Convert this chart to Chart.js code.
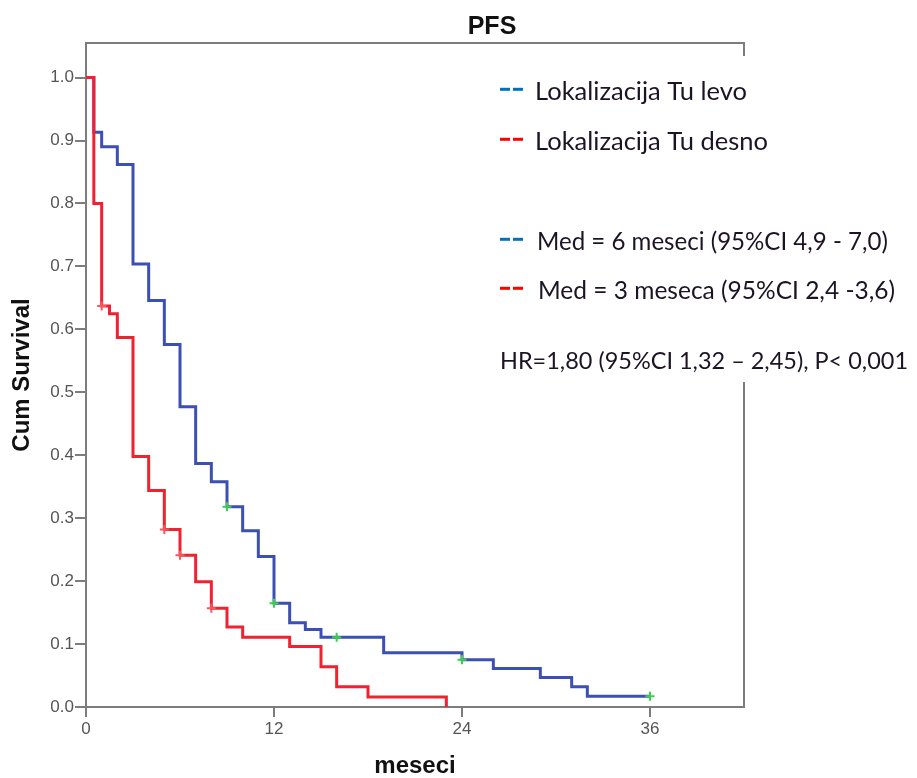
<!DOCTYPE html>
<html>
<head>
<meta charset="utf-8">
<script src="https://cdn.jsdelivr.net/npm/chart.js@4/dist/chart.umd.min.js"></script>
<style>
html,body{margin:0;padding:0;background:#fff;}
#wrap{width:917px;height:778px;position:relative;}
canvas{display:block;}
</style>
</head>
<body>
<div id="wrap"><canvas id="c" width="917" height="778"></canvas></div>
<script>
// ---------- DATA ----------
const chartTitle = 'PFS';
const xAxisTitle = 'meseci';
const yAxisTitle = 'Cum Survival';
const xTickValues = [0, 12, 24, 36];
const yTickValues = [0.0, 0.1, 0.2, 0.3, 0.4, 0.5, 0.6, 0.7, 0.8, 0.9, 1.0];
const seriesNames = ['Lokalizacija Tu levo', 'Lokalizacija Tu desno'];

// Group "levo" (blue)
const levoTimes = [0, 0.5, 1, 2, 3, 4, 5, 6, 7, 8, 9, 10, 11, 12, 13, 14, 15, 19, 24, 26, 29, 31, 32, 36];
const levoSurv  = [1.0, 0.913, 0.890, 0.862, 0.704, 0.646, 0.576, 0.477, 0.387, 0.358, 0.318, 0.280, 0.239, 0.165, 0.134, 0.123, 0.111, 0.086, 0.075, 0.061, 0.047, 0.032, 0.017, 0.017];
const levoCensorTimes = [9, 12, 16, 24, 36];
const levoCensorSurv  = [0.318, 0.165, 0.111, 0.075, 0.017];

// Group "desno" (red)
const desnoTimes = [0, 0.5, 1, 1.5, 2, 3, 4, 5, 6, 7, 8, 9, 10, 13, 15, 16, 18, 23];
const desnoSurv  = [1.0, 0.8, 0.637, 0.625, 0.587, 0.398, 0.344, 0.282, 0.241, 0.199, 0.157, 0.127, 0.111, 0.096, 0.064, 0.032, 0.016, 0.0];
const desnoCensorTimes = [1, 5, 6, 8];
const desnoCensorSurv  = [0.637, 0.282, 0.241, 0.157];

const annotationLines = [
  'Med = 6 meseci (95%CI 4,9 - 7,0)',
  'Med = 3 meseca (95%CI 2,4 -3,6)',
  'HR=1,80 (95%CI 1,32 \u2013 2,45), P< 0,001'
];

// ---------- STYLE ----------
const BLUE = '#3c50b4';
const RED = '#ef2231';
const GREEN = '#3ccf4e';
const RED_CENSOR = '#f25a62';
const AXIS = '#7d7d7d';
const TICK_TEXT = '#555555';
const SANS = 'Arial, "Liberation Sans", sans-serif';
const LEG_FONT = 'Lato, "Open Sans", sans-serif';

const toPts = (xs, ys) => xs.map((x, i) => ({x: x, y: ys[i]}));

const legendItems = [
  {text: seriesNames[0], dash: '#0070c0', x: 535, y: 92, w: 212},
  {text: seriesNames[1], dash: '#ff0000', x: 535, y: 142, w: 233},
  {text: annotationLines[0], dash: '#0070c0', x: 537, y: 242, w: 351},
  {text: annotationLines[1], dash: '#ff0000', x: 538, y: 291, w: 357},
  {text: annotationLines[2], dash: null, x: 500, y: 361, w: 408}
];

const decorPlugin = {
  id: 'decor',
  afterDraw(chart) {
    const ctx = chart.ctx;
    const a = chart.chartArea;
    ctx.save();
    // frame top and right
    ctx.strokeStyle = AXIS;
    ctx.lineWidth = 2;
    ctx.beginPath();
    ctx.moveTo(a.left - 1, a.top);
    ctx.lineTo(a.right, a.top);
    ctx.lineTo(a.right, a.bottom);
    ctx.stroke();
    // legend box (white) covering frame
    ctx.fillStyle = '#ffffff';
    ctx.fillRect(488, 56, 917 - 488, 382 - 56);
    // title
    ctx.fillStyle = '#111';
    ctx.font = 'bold 25px ' + SANS;
    ctx.textAlign = 'center';
    ctx.textBaseline = 'middle';
    ctx.fillText(chartTitle, 492, 27);
    // legend texts
    ctx.textAlign = 'left';
    legendItems.forEach(it => {
      if (it.dash) {
        ctx.fillStyle = it.dash;
        ctx.fillRect(500, it.y - 4.2, 10, 3);
        ctx.fillRect(513, it.y - 4.2, 10, 3);
      }
      ctx.font = '20px ' + LEG_FONT;
      const w = ctx.measureText(it.text).width;
      const size = 20 * it.w / w;
      ctx.font = size.toFixed(2) + 'px ' + LEG_FONT;
      ctx.fillStyle = '#1c1424';
      ctx.fillText(it.text, it.x, it.y);
    });
    ctx.restore();
  }
};

new Chart(document.getElementById('c'), {
  type: 'line',
  data: {
    datasets: [
      {
        label: seriesNames[1] + ' censored',
        type: 'scatter',
        data: toPts(desnoCensorTimes, desnoCensorSurv),
        pointStyle: 'cross', pointRadius: 4.5, pointBorderWidth: 2,
        borderColor: RED_CENSOR, backgroundColor: RED_CENSOR,
        showLine: false, order: -2
      },
      {
        label: seriesNames[0] + ' censored',
        type: 'scatter',
        data: toPts(levoCensorTimes, levoCensorSurv),
        pointStyle: 'cross', pointRadius: 4.5, pointBorderWidth: 2,
        borderColor: GREEN, backgroundColor: GREEN,
        showLine: false, order: -1
      },
      {
        label: seriesNames[1],
        data: toPts(desnoTimes, desnoSurv),
        borderColor: RED, borderWidth: 3, stepped: 'before',
        pointRadius: 0, fill: false, order: 0
      },
      {
        label: seriesNames[0],
        data: toPts(levoTimes, levoSurv),
        borderColor: BLUE, borderWidth: 3, stepped: 'before',
        pointRadius: 0, fill: false, order: 1
      }
    ]
  },
  options: {
    responsive: false,
    animation: false,
    devicePixelRatio: 1,
    layout: {padding: {top: 43, right: 173, left: 0, bottom: 0}},
    plugins: {
      legend: {display: false},
      tooltip: {enabled: false},
      title: {display: false}
    },
    scales: {
      x: {
        type: 'linear',
        min: 0, max: 42,
        afterBuildTicks: s => { s.ticks = xTickValues.map(v => ({value: v})); },
        afterFit: s => { s.height = 71; },
        grid: {drawOnChartArea: false, drawTicks: true, tickLength: 10, color: AXIS, lineWidth: 2},
        border: {display: true, color: AXIS, width: 2},
        ticks: {color: TICK_TEXT, font: {family: SANS, size: 17}, padding: 2, maxRotation: 0, autoSkip: false},
        title: {display: true, text: xAxisTitle, color: '#111', font: {family: SANS, size: 24, weight: 'bold', lineHeight: 1}, padding: {top: 0, bottom: 0}}
      },
      y: {
        min: 0, max: 1.055,
        afterBuildTicks: s => { s.ticks = yTickValues.map(v => ({value: v})); },
        afterFit: s => { s.width = 86; },
        grid: {drawOnChartArea: false, drawTicks: true, tickLength: 11, color: AXIS, lineWidth: 2},
        border: {display: true, color: AXIS, width: 2},
        ticks: {color: TICK_TEXT, font: {family: SANS, size: 17}, padding: 1, autoSkip: false,
                callback: v => Number(v).toFixed(1)},
        title: {display: true, text: yAxisTitle, color: '#111', font: {family: SANS, size: 24, weight: 'bold', lineHeight: 1}, padding: {top: 10, bottom: 0}}
      }
    }
  },
  plugins: [decorPlugin]
});
</script>
</body>
</html>
